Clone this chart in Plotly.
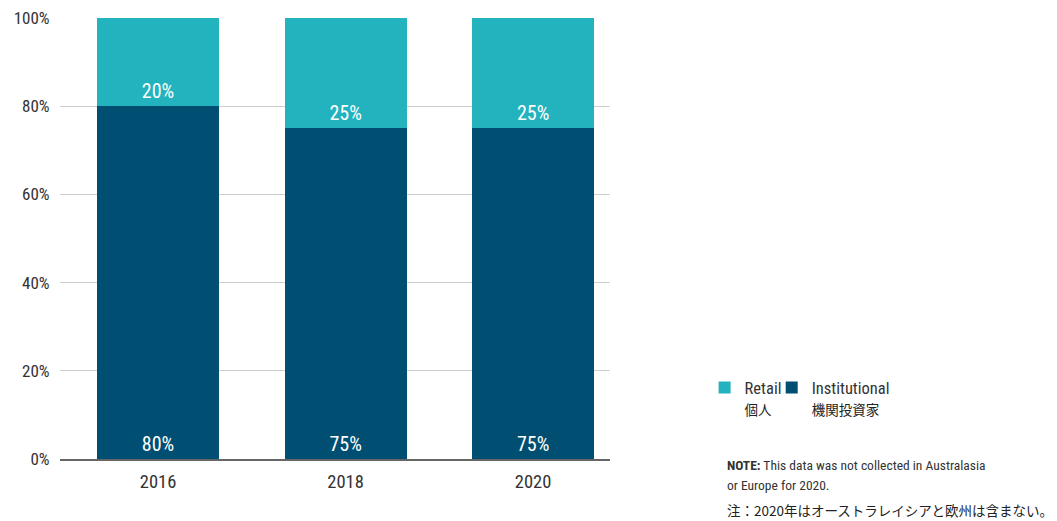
import plotly.graph_objects as go

years = ["2016", "2018", "2020"]
institutional = [80, 75, 75]
retail = [20, 25, 25]
series_names = ["Institutional", "Retail"]
series_names_ja = ["機関投資家", "個人"]
y_ticks = [0, 20, 40, 60, 80, 100]
y_tick_labels = ["0%", "20%", "40%", "60%", "80%", "100%"]

FONT = "Roboto Condensed, DejaVu Sans Condensed, sans-serif"
CJK = "Noto Sans CJK JP"
TEAL = "#22B3BE"
NAVY = "#004F73"
TXT = "#333333"

fig = go.Figure()
for vals, name, ja, color, leg in [
    (institutional, series_names[0], series_names_ja[0], NAVY, "legend2"),
    (retail, series_names[1], series_names_ja[1], TEAL, "legend"),
]:
    fig.add_trace(go.Bar(
        x=years, y=vals,
        name=f"{name}<br><span style='font-family:{CJK};font-size:13.5px;color:#222'>{ja}</span>",
        marker=dict(color=color, line=dict(width=0)),
        text=[f"{v}%" for v in vals],
        textposition="inside",
        insidetextanchor="start",
        textfont=dict(family=FONT, size=20, color="white"),
        legend=leg,
        hoverinfo="skip",
    ))

legend_common = dict(
    orientation="h",
    yanchor="top", y=0.2012,
    xanchor="left",
    valign="top",
    font=dict(family=FONT, size=16.5, color=TXT),
    itemclick=False, itemdoubleclick=False,
    bgcolor="rgba(0,0,0,0)",
)

# the page body adds an 8px margin, so the figure is 8px smaller than the window
fig.update_layout(
    width=1049, height=513,
    barmode="stack",
    bargap=0.35,
    plot_bgcolor="white",
    paper_bgcolor="white",
    margin=dict(l=52, r=447, t=10, b=62, autoexpand=False),
    font=dict(family=FONT, size=17, color=TXT),
    showlegend=True,
    legend=dict(legend_common, x=1.172),
    legend2=dict(legend_common, x=1.294),
    uniformtext=dict(mode="show", minsize=10),
)
fig.update_xaxes(
    range=[-0.523, 2.41],
    showline=True, linecolor="#666666", linewidth=1.5,
    showgrid=False,
    tickfont=dict(family=FONT, size=18.5, color=TXT),
    ticks="outside", ticklen=5, tickcolor="rgba(0,0,0,0)",
    fixedrange=True,
)
fig.update_yaxes(
    range=[0, 100.05],
    tickvals=y_ticks, ticktext=y_tick_labels,
    ticklabeloverflow="allow",
    showgrid=True, gridcolor="#CFCFCF", gridwidth=1,
    zeroline=False,
    tickfont=dict(family=FONT, size=17, color=TXT),
    ticks="outside", ticklen=6, tickcolor="rgba(0,0,0,0)",
    fixedrange=True,
)

fig.add_annotation(
    xref="paper", yref="paper", x=1.209, y=-0.0136, xanchor="left", yanchor="middle",
    text="<b>NOTE:</b> This data was not collected in Australasia",
    showarrow=False, font=dict(family=FONT, size=13.5, color=TXT),
)
fig.add_annotation(
    xref="paper", yref="paper", x=1.209, y=-0.059, xanchor="left", yanchor="middle",
    text="or Europe for 2020.",
    showarrow=False, font=dict(family=FONT, size=13.5, color=TXT),
)
fig.add_annotation(
    xref="paper", yref="paper", x=1.209, y=-0.1156, xanchor="left", yanchor="middle",
    text="注：2020年はオーストラレイシアと欧州は含まない。",
    showarrow=False, font=dict(family=CJK, size=13.5, color="#222222"),
)

fig.write_html("out.html", config={"displayModeBar": False})
